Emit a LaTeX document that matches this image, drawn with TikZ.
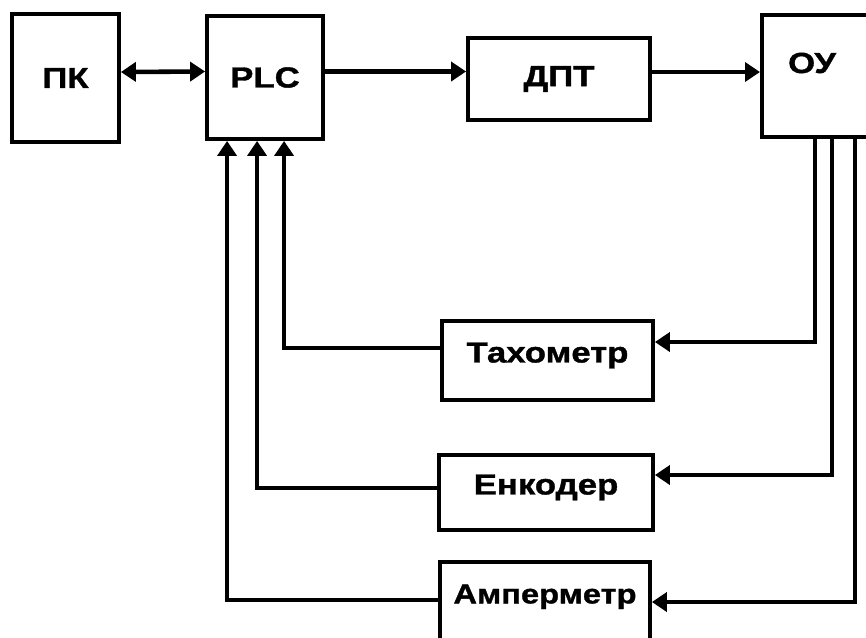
\documentclass[tikz,border=0pt]{standalone}
\usepackage{fontspec}
\newfontfamily\lblfont[FakeStretch=1.2,FakeBold=1.2]{Liberation Sans}
\usetikzlibrary{arrows.meta}

\begin{document}
\begin{tikzpicture}[x=0.02cm,y=-0.02cm,>={Triangle[length=0.3cm,width=0.38cm]},line width=2.6pt,
 blk/.style={draw,line width=2.2pt,inner sep=0pt,font=\lblfont\bfseries\fontsize{16.5}{19}\selectfont},
 sns/.style={blk,text depth=0.32cm},
 lbl/.style={inner sep=0pt,font=\lblfont\bfseries\fontsize{16.5}{19}\selectfont}]
\useasboundingbox (0,0) rectangle (866,637);
\clip (0,0) rectangle (866,637);
\node[blk,minimum width=2.14cm,minimum height=2.56cm] (pk) at (65.5,78) {ПК};
\node[blk,minimum width=2.32cm,minimum height=2.46cm] (plc) at (265,77.5) {PLC};
\node[blk,minimum width=3.64cm,minimum height=1.64cm] (dpt) at (559,79) {ДПТ};
\node[blk,minimum width=2.6cm,minimum height=2.44cm,anchor=north west] (ou) at (760,13) {};
\node[lbl] (oulbl) at (812,63) {ОУ};
\node[sns,minimum width=4.22cm,minimum height=1.58cm] (tah) at (547.5,360.5) {Тахометр};
\node[sns,minimum width=4.28cm,minimum height=1.5cm] (enc) at (546,492.5) {Енкодер};
\node[sns,minimum width=4.2cm,minimum height=1.6cm,font=\lblfont\bfseries\fontsize{15.5}{18}\selectfont] (amp) at (545,602) {Амперметр};
\draw[<->] ([yshift=0.12cm]pk.east) -- ([yshift=0.12cm]plc.west);
\draw[->] ([yshift=0.12cm]plc.east) -- ([yshift=0.12cm]plc.east -| dpt.west);
\draw[->] ([yshift=0.14cm]dpt.east) -- ([yshift=0.14cm]dpt.east -| ou.west);
% from the object to the sensors and back to the PLC
\foreach \s/\r/\ry/\l/\ly in {tah/1.1/0.37/1.58/0.25,enc/1.44/0.35/1.04/0.09,amp/1.9/0/0.44/0.04} {
 \draw[->] ([xshift=\r cm]ou.south west) |- ([yshift=\ry cm]\s.east);
 \draw[->] ([yshift=\ly cm]\s.west) -| ([xshift=\l cm]plc.south west);
}
\end{tikzpicture}
\end{document}
